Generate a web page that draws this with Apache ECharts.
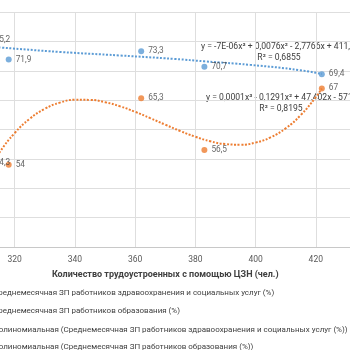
<!DOCTYPE html>
<html><head><meta charset="utf-8">
<script src="https://cdn.jsdelivr.net/npm/echarts@6/dist/echarts.min.js"></script>
<style>html,body{margin:0;padding:0;overflow:hidden;width:350px;height:350px;background:#fff}
#c{position:absolute;left:-100px;top:0;width:520px;height:380px}</style>
</head><body><div id="c"></div>
<script>
const seriesNames = [
  'Среднемесячная ЗП работников здравоохранения и социальных услуг (%)',
  'Среднемесячная ЗП работников образования (%)',
  'Полиномиальная (Среднемесячная ЗП работников здравоохранения и социальных услуг (%))',
  'Полиномиальная (Среднемесячная ЗП работников образования (%))'
];
const xName = 'Количество трудоустроенных с помощью ЦЗН (чел.)';
const employed = [311, 318, 362, 383, 422];
const healthWage = [75.2, 71.9, 73.3, 70.7, 69.4];
const eduWage = [54.3, 54, 65.3, 56.5, 67];
const healthTrendX = [311, 315.2, 335.1, 355, 373.3, 383, 398.2, 414.8, 422];
const healthTrendY = [74.1, 73.95, 73.2, 72.6, 72.0, 71.6, 71.0, 70.1, 69.45];
const eduTrendX = [311, 315, 320, 325, 330, 335, 340, 345, 350, 355, 360, 365, 370, 375, 380, 385, 390, 395, 400, 405, 410, 415, 420, 422];
const eduTrendY = [52.9, 56.15, 59.4, 61.83, 63.52, 64.57, 65.05, 65.04, 64.65, 63.94, 63.01, 61.94, 60.82, 59.74, 58.77, 57.99, 57.52, 57.41, 57.77, 58.67, 60.2, 62.45, 65.5, 66.97];
const equations = ['y = -7E-06x³ + 0,0076x² - 2,7766x + 411,0', 'R² = 0,6855',
                   'y = 0,0001x³ - 0,1291x² + 47,402x - 5710', 'R² = 0,8195'];
const fmt = v => String(v).replace('.', ',');
const BLUE = '#5B9BD5', ORANGE = '#ED7D31';
const FONT = 'Roboto, sans-serif';
const TXT = '#404040';
const lbl = {show: true, position: 'right', distance: 4, color: TXT, fontSize: 8.3, fontFamily: FONT,
  formatter: p => fmt(p.value[1])};
const chart = echarts.init(document.getElementById('c'), null, {renderer: 'canvas'});
chart.setOption({
  animation: false,
  grid: {left: 54.5, top: 12, width: 421.5, height: 235},
  xAxis: {type: 'value', min: 300, max: 440, interval: 20,
    name: xName, nameLocation: 'middle', nameGap: 23,
    nameTextStyle: {fontSize: 9, fontWeight: 'bold', color: '#404040', fontFamily: FONT},
    axisLine: {show: true, lineStyle: {color: '#C8C8C8'}}, axisTick: {show: false},
    axisLabel: {fontSize: 8.5, color: '#595959', margin: 8, fontFamily: FONT},
    splitLine: {show: true, lineStyle: {color: '#DEDEDE'}}},
  yAxis: {type: 'value', min: 40, max: 80, interval: 5,
    axisLine: {show: false}, axisTick: {show: false},
    axisLabel: {fontSize: 8.5, color: '#595959', fontFamily: FONT},
    splitLine: {show: true, lineStyle: {color: '#DEDEDE'}}},
  legend: {orient: 'vertical', left: 58, top: 283, itemGap: 9.8, itemWidth: 24, itemHeight: 9,
    textStyle: {fontSize: 8, color: TXT, fontFamily: FONT},
    data: seriesNames},
  series: [
    {name: seriesNames[0], type: 'scatter', symbolSize: 6, itemStyle: {color: BLUE}, z: 5,
      data: employed.map((x, i) => [x, healthWage[i]]), label: lbl},
    {name: seriesNames[1], type: 'scatter', symbolSize: 6, itemStyle: {color: ORANGE}, z: 5,
      data: employed.map((x, i) => [x, eduWage[i]]), label: lbl},
    {name: seriesNames[2], type: 'line', smooth: true, showSymbol: false, symbol: 'none',
      lineStyle: {color: BLUE, width: 2, type: [2, 1.6]}, itemStyle: {color: BLUE},
      data: healthTrendX.map((x, i) => [x, healthTrendY[i]])},
    {name: seriesNames[3], type: 'line', smooth: true, showSymbol: false, symbol: 'none',
      lineStyle: {color: ORANGE, width: 2, type: [2, 1.6]}, itemStyle: {color: ORANGE},
      data: eduTrendX.map((x, i) => [x, eduTrendY[i]])}
  ],
  graphic: [
    {type: 'text', x: 301, y: 47, style: {text: equations[0], fontSize: 8.6, fill: TXT, fontFamily: FONT, verticalAlign: 'middle'}},
    {type: 'text', x: 379, y: 58, style: {text: equations[1], fontSize: 8.6, fill: TXT, fontFamily: FONT, align: 'center', verticalAlign: 'middle'}},
    {type: 'text', x: 306, y: 98, style: {text: equations[2], fontSize: 8.6, fill: TXT, fontFamily: FONT, verticalAlign: 'middle'}},
    {type: 'text', x: 381, y: 109, style: {text: equations[3], fontSize: 8.6, fill: TXT, fontFamily: FONT, align: 'center', verticalAlign: 'middle'}}
  ]
});
</script></body></html>
